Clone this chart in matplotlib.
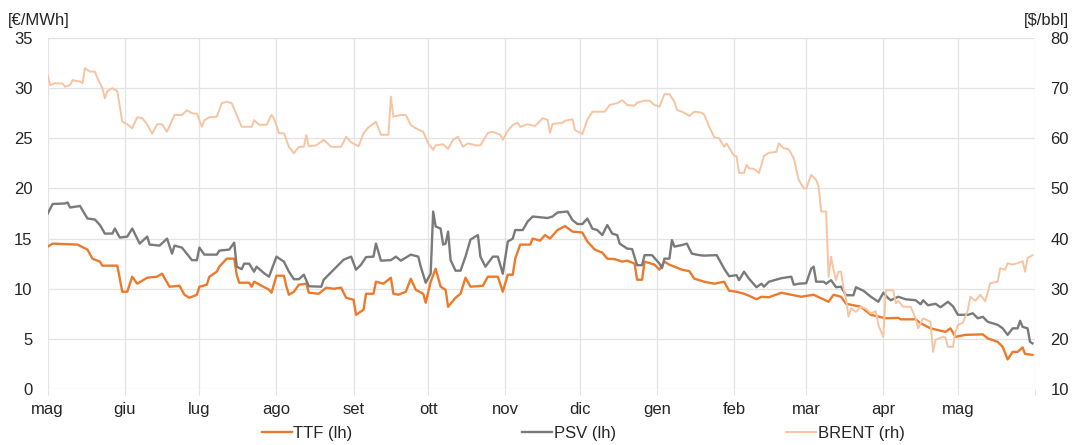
import numpy as np
import pandas as pd
import matplotlib
matplotlib.use("Agg")
import matplotlib.pyplot as plt

# giorni dal 1 maggio 2019 e valori
ttf_day = [0, 2, 12, 16, 18, 21, 22, 28, 30, 32, 34, 36, 40, 44, 46, 49, 53, 55, 57, 60,
           61, 64, 65, 68, 69, 72, 75, 76, 77, 81, 82, 83, 86, 89, 90, 92, 95, 96, 97, 99,
           101, 104, 105, 109, 112, 115, 118, 120, 123, 124, 127, 128, 131, 132, 135, 138, 139, 141, 144, 146,
           148, 151, 152, 154, 156, 158, 160, 161, 164, 166, 168, 170, 175, 177, 181, 183, 185, 187, 188, 190,
           194, 195, 198, 200, 202, 205, 208, 211, 215, 217, 220, 223, 225, 228, 231, 233, 236, 237, 239, 240,
           244, 246, 248, 250, 255, 258, 260, 264, 268, 272, 274, 277, 280, 282, 285, 287, 290, 295, 299, 303,
           308, 311, 314, 316, 319, 321, 323, 327, 331, 337, 342, 343, 349, 351, 355, 361, 363, 365, 369, 376,
           378, 382, 384, 386, 388, 390, 392, 393, 396]
ttf_val = [14.2, 14.5, 14.4, 13.9, 13.0, 12.7, 12.3, 12.3, 9.7, 9.7, 11.2, 10.5, 11.1, 11.2, 11.5, 10.2, 10.3, 9.4, 9.1, 9.4,
           10.2, 10.4, 11.2, 11.7, 12.2, 13.0, 13.0, 11.4, 10.6, 10.6, 10.2, 10.7, 10.3, 9.9, 9.6, 11.3, 11.3, 10.2, 9.4, 9.7,
           10.4, 10.5, 9.6, 9.5, 10.1, 10.0, 10.1, 9.1, 8.9, 7.4, 7.9, 9.5, 9.5, 10.7, 10.5, 11.1, 9.5, 9.4, 9.7, 11.0,
           9.9, 9.5, 8.6, 10.7, 12.0, 10.2, 9.9, 8.2, 9.1, 9.5, 11.1, 10.2, 10.3, 11.2, 11.2, 9.7, 11.4, 11.4, 13.0, 14.4,
           14.4, 15.0, 14.8, 15.35, 15.0, 15.85, 16.25, 15.7, 15.6, 14.7, 13.9, 13.6, 13.0, 12.95, 12.7, 12.8, 12.5, 10.9, 10.9, 12.7,
           12.4, 11.9, 12.7, 12.4, 11.9, 11.75, 11.0, 10.7, 10.5, 10.7, 9.8, 9.7, 9.5, 9.3, 8.95, 9.2, 9.15, 9.6, 9.4, 9.2,
           9.4, 9.05, 8.7, 9.4, 9.2, 8.5, 8.4, 8.2, 7.4, 7.05, 7.1, 6.95, 6.95, 6.55, 6.05, 5.7, 6.05, 5.2, 5.4, 5.45,
           5.05, 4.7, 4.2, 2.95, 3.7, 3.7, 4.15, 3.5, 3.4]

psv_day = [0, 2, 7, 8, 9, 13, 16, 19, 21, 23, 26, 27, 29, 32, 34, 37, 40, 41, 45, 48,
           50, 51, 54, 58, 60, 61, 63, 68, 69, 73, 75, 76, 78, 79, 81, 83, 84, 87, 89, 92,
           95, 97, 99, 101, 103, 105, 110, 111, 115, 119, 122, 124, 126, 128, 131, 132, 134, 138, 140, 142,
           146, 149, 150, 152, 154, 155, 156, 158, 159, 160, 161, 162, 164, 166, 168, 170, 173, 174, 176, 179,
           181, 183, 185, 187, 188, 191, 193, 195, 201, 203, 205, 209, 211, 213, 215, 217, 219, 221, 223, 225,
           227, 229, 230, 233, 235, 237, 239, 240, 243, 246, 247, 248, 250, 251, 252, 255, 257, 259, 262, 264,
           269, 272, 274, 277, 278, 280, 282, 285, 287, 288, 290, 295, 299, 300, 302, 305, 307, 308, 309, 312,
           313, 315, 317, 319, 321, 324, 325, 328, 331, 334, 336, 338, 339, 342, 345, 349, 351, 352, 354, 357,
           359, 362, 364, 366, 370, 372, 374, 376, 378, 382, 384, 386, 388, 390, 391, 392, 394, 395, 396]
psv_val = [17.5, 18.45, 18.5, 18.6, 18.1, 18.25, 17.0, 16.9, 16.35, 15.5, 15.5, 16.0, 15.1, 15.2, 16.0, 14.5, 15.2, 14.4, 14.3, 15.0,
           13.5, 14.3, 14.1, 12.85, 12.85, 14.1, 13.4, 13.4, 13.8, 13.9, 14.6, 12.2, 11.95, 12.5, 12.5, 11.7, 12.2, 11.55, 11.2, 13.2,
           12.7, 11.7, 10.95, 10.95, 11.4, 10.25, 10.2, 10.9, 11.9, 12.9, 13.2, 11.9, 12.4, 13.15, 13.2, 14.5, 12.8, 12.85, 13.2, 12.8,
           13.4, 13.2, 12.2, 10.6, 11.5, 17.7, 16.2, 16.0, 14.4, 14.5, 15.7, 12.85, 11.8, 11.8, 13.2, 14.9, 15.35, 13.2, 12.2, 13.2,
           13.2, 11.5, 14.7, 15.0, 15.85, 15.85, 16.7, 17.2, 17.05, 17.2, 17.6, 17.7, 16.85, 16.45, 16.45, 17.0, 16.0, 15.85, 15.35, 16.35,
           15.5, 15.35, 14.5, 14.0, 13.95, 12.35, 12.35, 13.35, 13.35, 12.5, 12.05, 13.0, 13.0, 14.85, 14.2, 14.35, 14.5, 13.5, 13.35, 13.3,
           13.35, 12.0, 11.25, 11.35, 10.85, 11.7, 11.0, 10.15, 10.5, 10.2, 10.7, 11.05, 11.2, 10.4, 10.5, 10.55, 12.0, 12.2, 10.7, 10.7,
           10.5, 10.85, 10.15, 10.2, 9.35, 9.35, 10.15, 9.8, 9.2, 8.7, 9.6, 9.05, 8.85, 9.2, 8.95, 8.85, 8.45, 8.85, 8.35, 8.5,
           8.15, 8.7, 8.25, 7.4, 7.4, 7.55, 7.05, 7.2, 6.7, 6.4, 6.05, 5.4, 6.05, 6.05, 6.8, 6.2, 6.05, 4.7, 4.55]

brent_day = [0, 1, 3, 6, 7, 9, 10, 13, 14, 15, 17, 19, 20, 22, 23, 24, 26, 28, 30, 32,
             34, 36, 38, 40, 42, 44, 46, 48, 49, 51, 54, 56, 58, 60, 62, 63, 65, 68, 70, 72,
             74, 76, 78, 82, 83, 85, 88, 90, 91, 93, 95, 97, 99, 101, 103, 104, 105, 108, 111, 114,
             118, 120, 122, 125, 127, 129, 132, 134, 137, 138, 139, 142, 144, 146, 148, 151, 153, 155, 156, 159,
             161, 163, 165, 167, 169, 172, 174, 177, 179, 182, 183, 185, 187, 189, 190, 193, 196, 199, 201, 202,
             203, 207, 208, 211, 212, 215, 217, 219, 224, 226, 229, 231, 233, 236, 237, 240, 242, 244, 246, 248,
             250, 252, 253, 255, 257, 258, 260, 263, 264, 266, 268, 270, 272, 273, 276, 277, 278, 280, 281, 282,
             284, 286, 287, 288, 290, 293, 294, 296, 298, 300, 302, 304, 305, 307, 309, 310, 311, 313, 314, 315,
             316, 317, 318, 319, 320, 321, 322, 323, 325, 327, 329, 331, 333, 334, 336, 337, 340, 341, 342, 344,
             347, 349, 350, 352, 355, 356, 357, 360, 361, 362, 364, 365, 366, 368, 370, 371, 373, 375, 377, 379,
             382, 383, 385, 386, 388, 390, 392, 393, 394, 396]
brent_val = [72.6, 70.6, 71.0, 70.9, 70.3, 70.6, 71.6, 71.3, 71.0, 74.0, 73.3, 73.3, 72.0, 70.0, 68.0, 69.4, 70.0, 69.4, 63.3, 62.8,
             62.0, 64.2, 64.0, 62.8, 60.9, 62.8, 62.8, 61.3, 62.4, 64.65, 64.65, 65.6, 65.0, 64.9, 62.3, 63.6, 64.2, 64.3, 67.0, 67.3,
             67.0, 64.65, 62.3, 62.3, 63.6, 62.7, 62.7, 64.65, 64.0, 61.0, 61.0, 58.3, 57.0, 58.3, 58.3, 60.65, 58.4, 58.6, 59.7, 58.3,
             58.3, 60.3, 59.2, 58.4, 61.0, 62.2, 63.3, 60.7, 60.7, 68.3, 64.3, 64.65, 64.65, 62.65, 62.0, 61.3, 59.0, 57.7, 58.6, 58.8,
             57.9, 59.7, 60.3, 58.3, 59.0, 58.6, 58.6, 61.1, 61.3, 60.7, 59.7, 61.5, 62.65, 63.1, 62.3, 62.8, 62.45, 64.0, 63.7, 61.1,
             62.85, 63.1, 63.5, 63.8, 61.65, 60.85, 63.7, 65.3, 65.3, 66.65, 67.0, 67.6, 66.65, 66.5, 67.1, 67.5, 67.5, 66.65, 66.3, 68.8,
             68.8, 67.3, 65.65, 65.3, 64.8, 64.45, 65.3, 65.1, 64.7, 62.3, 60.2, 60.0, 58.3, 58.95, 56.5, 56.4, 53.1, 53.1, 54.7, 54.0,
             53.9, 53.1, 54.7, 56.5, 57.1, 57.3, 59.0, 58.0, 57.8, 56.0, 51.7, 50.0, 50.0, 52.7, 51.7, 50.35, 45.4, 45.4, 32.4, 36.4,
             33.7, 31.7, 33.4, 33.4, 30.1, 28.1, 24.4, 26.1, 25.4, 26.4, 26.0, 25.1, 25.5, 22.8, 20.4, 29.7, 29.7, 27.1, 27.6, 26.4,
             26.4, 24.1, 22.1, 24.1, 23.4, 17.4, 19.8, 20.4, 20.3, 18.4, 18.4, 21.4, 22.8, 23.2, 25.75, 28.4, 27.6, 28.8, 27.5, 31.1,
             31.4, 34.1, 33.8, 35.1, 34.8, 35.1, 35.5, 33.4, 36.1, 36.7]

start = pd.Timestamp("2019-05-01")
ttf_dates = start + pd.to_timedelta(ttf_day, unit="D")
psv_dates = start + pd.to_timedelta(psv_day, unit="D")
brent_dates = start + pd.to_timedelta(brent_day, unit="D")

month_labels = ["mag", "giu", "lug", "ago", "set", "ott", "nov", "dic",
                "gen", "feb", "mar", "apr", "mag"]
month_ticks = pd.date_range("2019-05-01", periods=13, freq="MS")

c_ttf = "#EC7A2C"
c_psv = "#7A7A7A"
c_brent = "#F7C4A2"
grid_c = "#E3E3E3"
txt_c = "#262626"
fs = 12

plt.rcParams["font.family"] = ["Liberation Sans", "DejaVu Sans"]

fig = plt.figure(figsize=(10.74, 4.45), dpi=100)
ax = fig.add_axes([0.0444, 0.1258, 0.9193, 0.7888])
ax2 = ax.twinx()

l1, = ax.plot(ttf_dates, ttf_val, color=c_ttf, lw=1.7, label="TTF (lh)", zorder=3)
l2, = ax.plot(psv_dates, psv_val, color=c_psv, lw=1.7, label="PSV (lh)", zorder=3)
l3, = ax2.plot(brent_dates, brent_val, color=c_brent, lw=1.4, label="BRENT (rh)")

ax.set_ylim(0, 35)
ax.set_yticks(np.arange(0, 36, 5))
ax2.set_ylim(10, 80)
ax2.set_yticks(np.arange(10, 81, 10))
ax.set_xlim(pd.Timestamp("2019-05-01"), pd.Timestamp("2020-06-01"))
ax.set_xticks(list(month_ticks) + [pd.Timestamp("2020-06-01")])
ax.set_xticklabels(month_labels + [""])

ax.grid(True, color=grid_c, lw=0.9)
ax.set_axisbelow(True)
for a in (ax, ax2):
    for s in a.spines.values():
        s.set_visible(False)
ax.tick_params(axis="x", length=4, color=grid_c, labelsize=fs, labelcolor=txt_c, pad=5)
ax.tick_params(axis="y", length=0, labelsize=fs, labelcolor=txt_c, pad=11)
ax2.tick_params(axis="y", length=0, labelsize=fs, labelcolor=txt_c, pad=11)

fig.text(0.007, 0.953, "[€/MWh]", fontsize=fs, color=txt_c, ha="left", va="center")
fig.text(0.995, 0.953, "[$/bbl]", fontsize=fs, color=txt_c, ha="right", va="center")

fig.legend(handles=[l1, l2, l3], loc="lower center", bbox_to_anchor=(0.543, -0.025),
           ncol=3, frameon=False, fontsize=fs, handlelength=1.8, handletextpad=0.1,
           columnspacing=10.2, labelcolor=txt_c)

fig.savefig("out.png", dpi=100)
